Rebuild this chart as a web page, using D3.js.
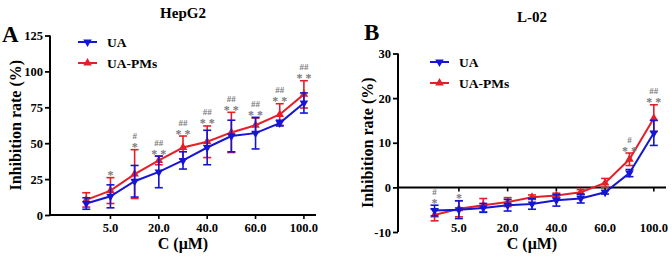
<!DOCTYPE html>
<html>
<head>
<meta charset="utf-8">
<style>
  body { margin: 0; background: #fff; }
  svg text { font-family: "Liberation Serif", "Times New Roman", serif; font-weight: bold; }
</style>
</head>
<body>
<script src="https://d3js.org/d3.v7.min.js"></script>
<svg width="672" height="256"></svg>
<script>
// concentrations (only every other one is labelled on the axis)
var concLabels = ["", "5.0", "", "20.0", "", "40.0", "", "60.0", "", "100.0"];

// HepG2
var hepUA      = [8, 13, 23.5, 30, 38, 47, 55, 57, 64, 78];
var hepUAsd    = [4, 8, 11, 11, 6, 12, 11, 11, 2, 7];
var hepPM      = [10.5, 17, 28.5, 38, 47, 51, 57.5, 62.5, 70, 84];
var hepPMsd    = [5, 9, 17, 3, 8, 11, 14, 5, 7.5, 9.5];
var hepStars   = ["", "*", "*", "* *", "* *", "* *", "* *", "* *", "* *", "* *"];
var hepHash    = ["", "", "#", "##", "##", "##", "##", "##", "##", "##"];

// L-02
var l02UA      = [-5.2, -5.0, -4.6, -4.0, -3.7, -2.9, -2.5, -1.1, 3.2, 12.2];
var l02UAsd    = [1.2, 2.0, 1.0, 1.3, 1.2, 1.3, 1.0, 0.4, 0.8, 2.8];
var l02PM      = [-6.2, -4.8, -4.0, -3.3, -2.2, -1.8, -1.1, 1.0, 6.3, 15.5];
var l02PMsd    = [1.3, 1.8, 1.5, 1.0, 0.5, 0.5, 0.6, 1.0, 1.4, 3.0];
var l02Stars   = ["*", "*", "", "", "", "", "", "", "* *", "* *"];
var l02Hash    = ["#", "", "", "", "", "", "", "", "#", "##"];

var blue = "#1616d2", red = "#e3202a", grey = "#7a7a7a";
var svg = d3.select("svg");

function drawPanel(p) {
  var x = d3.scaleLinear().domain([-1.5, 9.5]).range([p.left, p.right]);
  var y = d3.scaleLinear().domain(p.yDomain).range([p.bottom, p.top]);
  var g = svg.append("g");

  // y axis
  var ya = g.append("g").attr("transform", "translate(" + p.left + ",0)")
    .call(d3.axisLeft(y).tickValues(p.yTicks).tickFormat(function(d) { return String(d); })
      .tickSize(5).tickPadding(2));
  ya.select(".domain").attr("stroke-width", 2).attr("d", "M0," + y(p.yDomain[0]) + "V" + y(p.yDomain[1]));
  ya.selectAll(".tick line").attr("stroke-width", 1.8);
  ya.selectAll(".tick text").attr("font-size", 12.5).attr("font-family", "Liberation Serif").attr("font-weight", "bold").attr("fill", "#000");

  // x axis line at 0, labels below the plot
  var y0 = y(0);
  g.append("line").attr("x1", p.left).attr("x2", p.right).attr("y1", y0).attr("y2", y0)
    .attr("stroke", "#000").attr("stroke-width", 2);
  concLabels.forEach(function(l, i) {
    if (!l) return;
    g.append("line").attr("x1", x(i)).attr("x2", x(i)).attr("y1", y0).attr("y2", y0 + 4)
      .attr("stroke", "#000").attr("stroke-width", 1.6);
    g.append("text").attr("x", x(i)).attr("y", 232).attr("text-anchor", "middle")
      .attr("font-size", 12.5).text(l);
  });

  // axis titles
  g.append("text").attr("x", (p.left + p.right) / 2).attr("y", 249)
    .attr("text-anchor", "middle").attr("font-size", 16).text("C (\u03bcM)");
  g.append("text").attr("transform", "translate(" + p.yTitleX + "," + ((p.top + p.bottom) / 2) + ") rotate(-90)")
    .attr("text-anchor", "middle").attr("font-size", 16).text("Inhibition rate (%)");
  g.append("text").attr("x", (p.left + p.right) / 2).attr("y", p.titleY)
    .attr("text-anchor", "middle").attr("font-size", 15).text(p.title);
  g.append("text").attr("x", p.letterX).attr("y", p.letterY).attr("font-size", 23).text(p.letter);

  var line = d3.line().x(function(d, i) { return x(i); }).y(function(d) { return y(d); });

  function series(vals, sds, color, sym) {
    var s = g.append("g");
    s.append("path").datum(vals).attr("d", line).attr("fill", "none")
      .attr("stroke", color).attr("stroke-width", 2);
    vals.forEach(function(v, i) {
      var xi = x(i), top = y(v + sds[i]), bot = y(v - sds[i]);
      s.append("line").attr("x1", xi).attr("x2", xi).attr("y1", top).attr("y2", bot)
        .attr("stroke", color).attr("stroke-width", 1.6);
      [top, bot].forEach(function(c) {
        s.append("line").attr("x1", xi - 4).attr("x2", xi + 4).attr("y1", c).attr("y2", c)
          .attr("stroke", color).attr("stroke-width", 1.6);
      });
      s.append("path").attr("d", d3.symbol().type(d3.symbolTriangle).size(32)())
        .attr("transform", "translate(" + xi + "," + y(v) + ")" + (sym === "down" ? " rotate(180)" : ""))
        .attr("fill", color);
    });
  }
  series(p.pm, p.pmSd, red, "up");
  series(p.ua, p.uaSd, blue, "down");

  // significance marks above the higher error bar
  p.stars.forEach(function(st, i) {
    var top = Math.min(y(p.pm[i] + p.pmSd[i]), y(p.ua[i] + p.uaSd[i]));
    if (st) g.append("text").attr("x", x(i)).attr("y", top + 1.5).attr("text-anchor", "middle")
      .attr("font-family", "DejaVu Sans").attr("font-weight", "normal")
      .attr("font-size", 12).attr("fill", grey).text(st);
    if (p.hash[i]) g.append("text").attr("x", x(i)).attr("y", top - 10.5).attr("text-anchor", "middle")
      .attr("font-family", "DejaVu Sans").attr("font-weight", "normal")
      .attr("font-size", 9).attr("fill", grey).text(p.hash[i]);
  });

  // legend
  [["UA", blue, "down"], ["UA-PMs", red, "up"]].forEach(function(d, k) {
    var ly = p.legY + k * 21;
    g.append("line").attr("x1", p.legX).attr("x2", p.legX + 19).attr("y1", ly).attr("y2", ly)
      .attr("stroke", d[1]).attr("stroke-width", 2);
    g.append("path").attr("d", d3.symbol().type(d3.symbolTriangle).size(32)())
      .attr("transform", "translate(" + (p.legX + 9.5) + "," + ly + ")" + (d[2] === "down" ? " rotate(180)" : ""))
      .attr("fill", d[1]);
    g.append("text").attr("x", p.legX + 29).attr("y", ly + 5).attr("font-size", 13.5).text(d[0]);
  });
}

drawPanel({
  left: 50, right: 316, top: 35.5, bottom: 215, yDomain: [0, 125], yTicks: [0, 25, 50, 75, 100, 125],
  ua: hepUA, uaSd: hepUAsd, pm: hepPM, pmSd: hepPMsd, stars: hepStars, hash: hepHash, yTitleX: 21,
  title: "HepG2", titleY: 18, letter: "A", letterX: 2, letterY: 42, legX: 78, legY: 42
});
drawPanel({
  left: 398, right: 666, top: 53.5, bottom: 232, yDomain: [-10, 30], yTicks: [-10, 0, 10, 20, 30],
  ua: l02UA, uaSd: l02UAsd, pm: l02PM, pmSd: l02PMsd, stars: l02Stars, hash: l02Hash, yTitleX: 373,
  title: "L-02", titleY: 22, letter: "B", letterX: 364, letterY: 40, legX: 430, legY: 62
});
</script>
</body>
</html>
